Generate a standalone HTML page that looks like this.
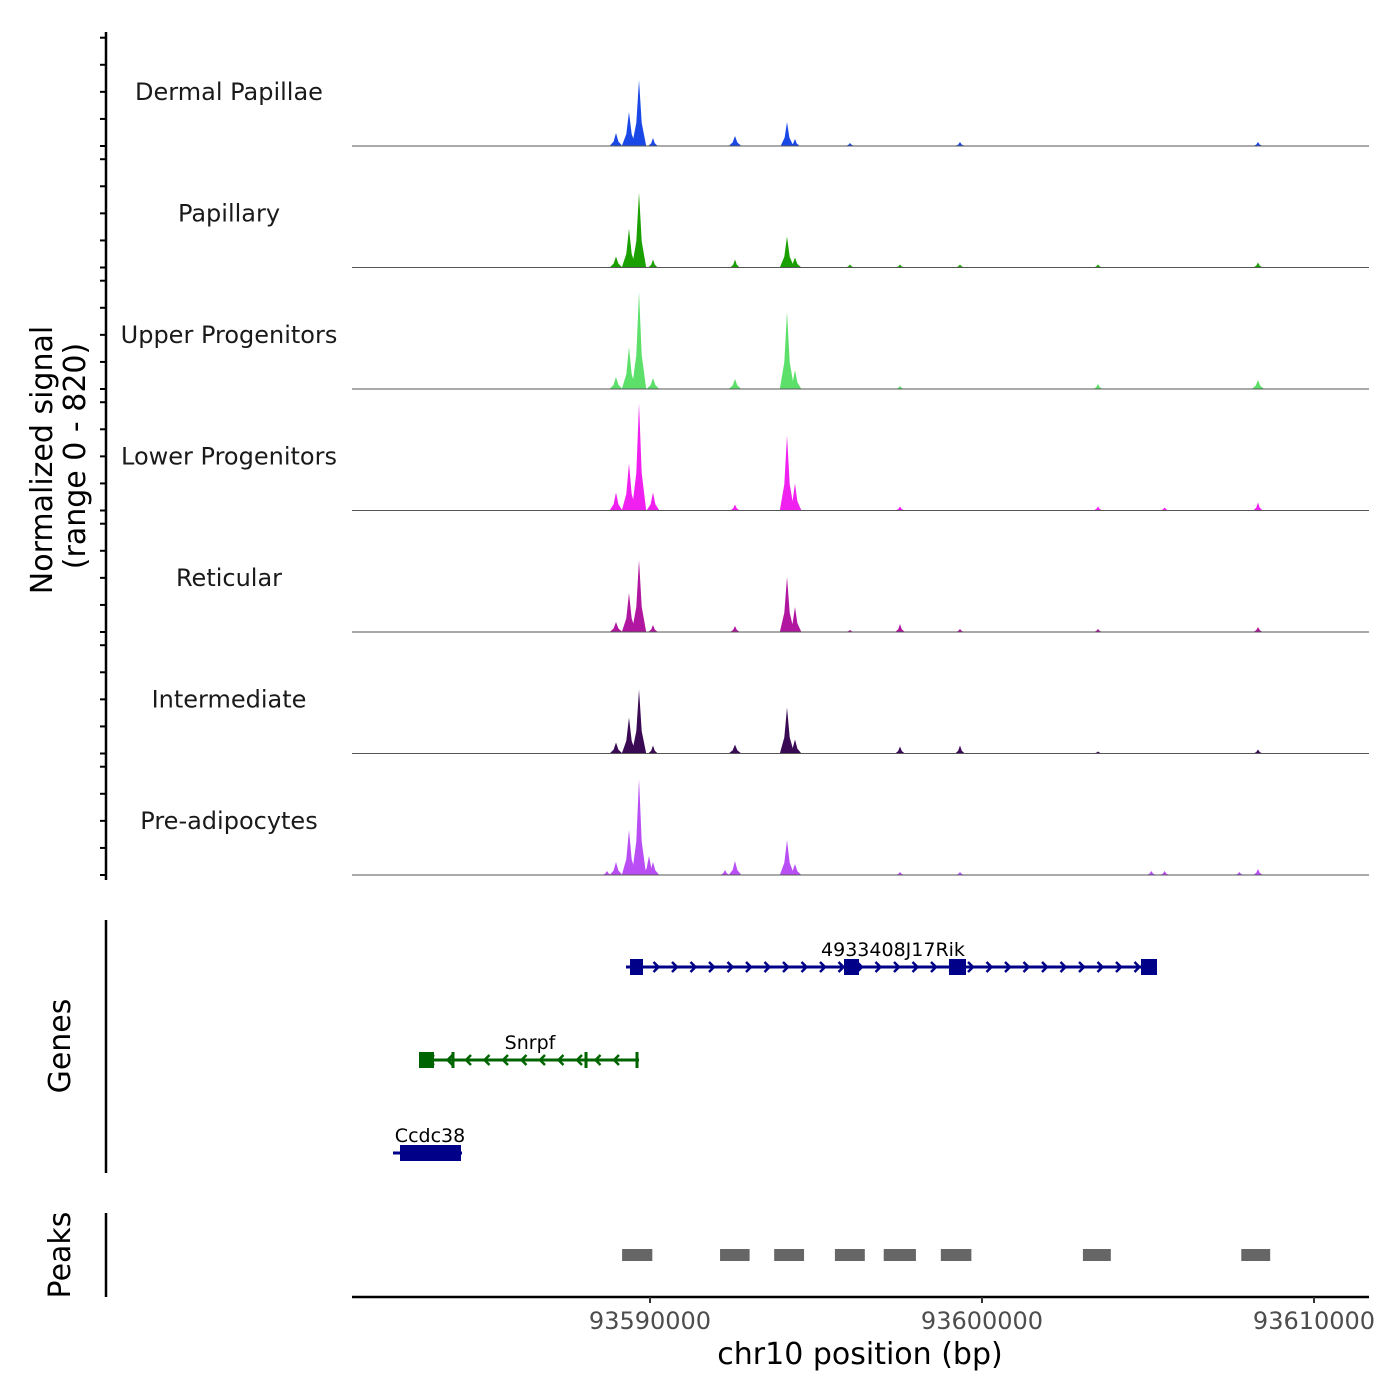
<!DOCTYPE html>
<html><head><meta charset="utf-8"><style>
body{margin:0;background:#fff}
svg{display:block;font-family:"DejaVu Sans","Liberation Sans",sans-serif}
</style></head><body>
<svg id="chart" width="1400" height="1400" viewBox="0 0 1400 1400">
<g id="tracks"></g>
<g id="genes"></g>
<g id="peaks"></g>
<g id="axes"></g>
</svg>
<script>
const trackNames = ["Dermal Papillae","Papillary","Upper Progenitors","Lower Progenitors","Reticular","Intermediate","Pre-adipocytes"];
const trackColors = ["#1a48e6","#1aa000","#5ce06a","#f020f0","#b0169f","#3a0a55","#b94ef5"];
const peakPos = {
 a:93588705,b:93588976,c:93589367,d:93589669,e:93589970,f:93590090,g:93592259,h:93592560,i:93594127,j:93594367,
 k:93596024,l:93597530,m:93599337,n:93603494,o:93605100,p:93605500,q:93607750,r:93608313};
const dpVals = {b:96,c:251,d:487,f:59,h:74,i:177,j:52,k:22,m:30,r:30};
const papVals = {b:81,c:288,d:554,f:59,h:59,i:229,j:74,k:22,l:22,m:22,n:22,r:37};
const upVals = {b:89,c:310,d:716,f:81,h:74,i:569,j:140,l:22,n:37,r:66};
const lowVals = {b:133,c:347,d:790,f:133,h:44,i:554,j:199,l:30,n:30,p:22,r:59};
const retVals = {b:74,c:288,d:532,f:52,h:44,i:406,j:185,k:15,l:59,m:22,n:22,r:37};
const intVals = {b:81,c:266,d:473,f:59,h:66,i:340,j:103,l:52,m:59,n:15,r:30};
const preVals = {a:30,b:96,c:332,d:709,e:140,f:96,g:37,h:103,i:258,j:81,l:22,m:22,o:30,p:30,q:22,r:44};
const trackVals = [dpVals,papVals,upVals,lowVals,retVals,intVals,preVals];
const yMax = 820;
const xTicks = [93590000,93600000,93610000];
const peakRegions = [[93589160,93590070],[93592110,93593000],[93593740,93594640],[93595570,93596470],[93597040,93598010],[93598760,93599680],[93603040,93603880],[93607810,93608680]];

const NS="http://www.w3.org/2000/svg";
function mk(tag,attrs,parent){const e=document.createElementNS(NS,tag);for(const k in attrs)e.setAttribute(k,attrs[k]);parent.appendChild(e);return e;}
const X0=352,X1=1369;
function xs(bp){return 650+(bp-93590000)*332/10000;}
const panelH=121.5, base0=146, pxPerUnit=111/yMax;
function ys(v,b){return b-v*pxPerUnit;}

const tracks=document.getElementById('tracks');
trackNames.forEach((name,t)=>{
  const b=base0+t*panelH;
  const g=mk('g',{},tracks);
  
  
  const vals=trackVals[t];
  Object.keys(vals).forEach(k=>{
    const x=xs(peakPos[k]), v=vals[k], top=ys(v,b);
    const hw = v>200?4.5:(v>60?4:3);
    const p=mk('path',{d:`M${x-hw*1.6},${b} L${x-hw*0.6},${(b+top)/2+ (b-top)*0.15} L${x},${top} L${x+hw*0.6},${(b+top)/2+(b-top)*0.15} L${x+hw*1.6},${b} Z`,fill:trackColors[t]},g);
    
    
  });
  const ln=mk('line',{x1:X0,x2:X1,y1:b,y2:b,stroke:'#555','stroke-width':1},g);
  
  
  const lb=mk('text',{x:229,y:b-46,'text-anchor':'middle','font-size':24,fill:'#1a1a1a'},g);
  lb.textContent=name;
  
  
});

const axes=document.getElementById('axes');
mk('line',{x1:106,x2:106,y1:32,y2:880,stroke:'#000','stroke-width':2.5},axes);
for(let t=0;t<7;t++){const b=base0+t*panelH;for(let v=0;v<=800;v+=200){const y=ys(v,b);mk('line',{x1:100,x2:106,y1:y,y2:y,stroke:'#000','stroke-width':2},axes);}}
const yt=mk('text',{transform:'translate(52,460) rotate(-90)','text-anchor':'middle','font-size':30},axes);
yt.textContent='Normalized signal';
const yt2=mk('text',{transform:'translate(85,456) rotate(-90)','text-anchor':'middle','font-size':30},axes);
yt2.textContent='(range 0 - 820)';
mk('line',{x1:106,x2:106,y1:920,y2:1173,stroke:'#000','stroke-width':2.5},axes);
const gt=mk('text',{transform:'translate(70,1046) rotate(-90)','text-anchor':'middle','font-size':30},axes);
gt.textContent='Genes';
mk('line',{x1:106,x2:106,y1:1213,y2:1297,stroke:'#000','stroke-width':2.5},axes);
const pt=mk('text',{transform:'translate(70,1255) rotate(-90)','text-anchor':'middle','font-size':30},axes);
pt.textContent='Peaks';
mk('line',{x1:352,x2:1369,y1:1297,y2:1297,stroke:'#000','stroke-width':2.5},axes);
xTicks.forEach(v=>{const x=xs(v);mk('line',{x1:x,x2:x,y1:1297,y2:1303,stroke:'#333','stroke-width':2},axes);
 const t=mk('text',{x:x,y:1329,'text-anchor':'middle','font-size':24,fill:'#4d4d4d'},axes);t.textContent=v;
 });
const xt=mk('text',{x:860,y:1364,'text-anchor':'middle','font-size':30},axes);
xt.textContent='chr10 position (bp)';

const pk=document.getElementById('peaks');
peakRegions.forEach(r=>{const x=xs(r[0]),w=xs(r[1])-x;const e=mk('rect',{x:x,y:1249,width:w,height:12,fill:'#666'},pk);
 });

const gn=document.getElementById('genes');
function gene(name,col,y,x0,x1,exons,dir,labelX,ticks){
  const g=mk('g',{},gn);
  
  
  mk('line',{x1:x0,x2:x1,y1:y,y2:y,stroke:col,'stroke-width':3},g);
  for(let x=x0+12;x<x1-6;x+=18.5){
    const d=dir>0?`M${x-3},${y-5} L${x+2},${y} L${x-3},${y+5}`:`M${x+3},${y-5} L${x-2},${y} L${x+3},${y+5}`;
    mk('path',{d:d,stroke:col,'stroke-width':2.5,fill:'none'},g);}
  exons.forEach(e=>mk('rect',{x:e[0],y:y-8,width:e[1],height:16,fill:col},g));
  (ticks||[]).forEach(x=>mk('rect',{x:x-1.5,y:y-8,width:3,height:16,fill:col},g));
  const t=mk('text',{x:labelX,y:y-11,'text-anchor':'middle','font-size':19},g);t.textContent=name;
}
gene('4933408J17Rik','#000088',967,626,1157,[[630,13],[844,15],[949,17],[1141,16]],1,893);
gene('Snrpf','#006400',1060,419,639,[[419,15]],-1,530,[453,586,637]);
gene('Ccdc38','#000088',1153,393,462,[[400,61]],1,430);
</script>
</body></html>
